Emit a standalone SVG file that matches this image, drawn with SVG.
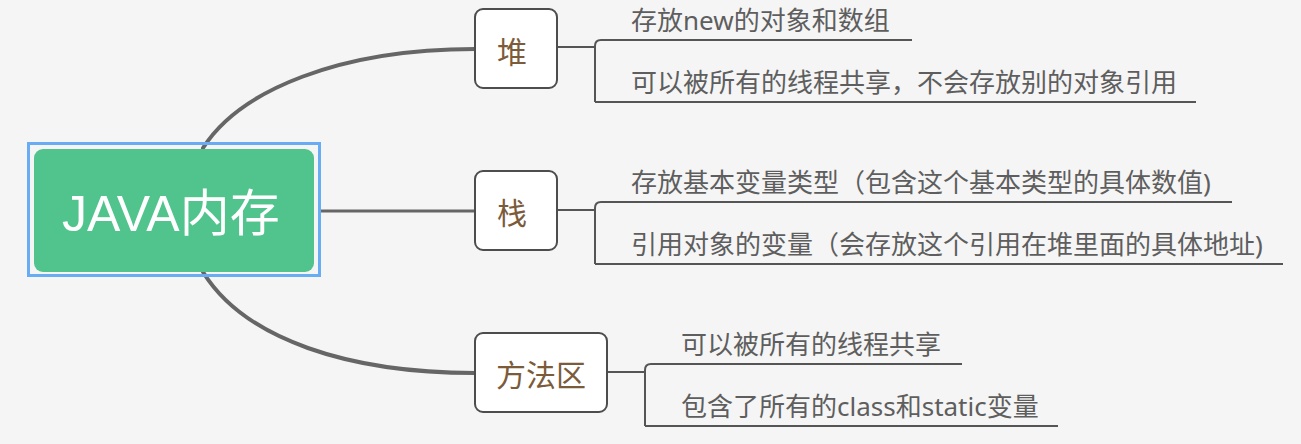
<svg xmlns="http://www.w3.org/2000/svg" width="1301" height="444" viewBox="0 0 1301 444">
<style>
.bg{fill:#f5f5f5}
.curve{fill:none;stroke:#666;stroke-width:4;stroke-linecap:round}
.br{fill:none;stroke:#555;stroke-width:2}
.node{fill:#fff;stroke:#4d4d4d;stroke-width:2}
.nt{font-family:"Noto Sans CJK SC",sans-serif;font-size:30px;fill:#7b5b3a;text-anchor:middle;dominant-baseline:central}
.lt{font-family:"Noto Sans","Noto Sans CJK SC",sans-serif;font-size:26px;fill:#5e5e5e;dominant-baseline:central}
.rt{font-family:"Liberation Sans","Noto Sans CJK SC",sans-serif;font-size:50px;fill:#fff;dominant-baseline:central}
</style>
<rect class="bg" x="0" y="0" width="1301" height="444"/>
<g id="connectors">
<path class="curve" d="M203,148 C240,90 340,49 475,49"/>
<path class="curve" d="M320,211 H475" style="stroke-width:3"/>
<path class="curve" d="M203,272 C245,340 350,373 475,373"/>
<path class="br" d="M557,47 H595 M595,102 V46 Q595,40 601,40 H912 M595,102 H1196"/>
<path class="br" d="M557,210 H595 M595,264 V208 Q595,202 601,202 H1232 M595,264 H1283"/>
<path class="br" d="M607,372 H645 M645,426 V370 Q645,364 651,364 H962 M645,426 H1058"/>
</g>
<g id="root">
<rect x="28.5" y="143.5" width="291" height="132" fill="none" stroke="#68acf4" stroke-width="3"/>
<rect x="34" y="149" width="280" height="123" rx="9" fill="#50c48c"/>
<text class="rt" x="62" y="214">JAVA内存</text>
</g>
<g id="heap">
<rect class="node" x="475" y="9" width="82" height="79" rx="8"/>
<text class="nt" x="512" y="50">堆</text>
<text class="lt" x="631" y="20">存放new的对象和数组</text>
<text class="lt" x="631" y="82">可以被所有的线程共享，不会存放别的对象引用</text>
</g>
<g id="stack">
<rect class="node" x="475" y="171" width="82" height="79" rx="8"/>
<text class="nt" x="512" y="211">栈</text>
<text class="lt" x="631" y="182">存放基本变量类型（包含这个基本类型的具体数值)</text>
<text class="lt" x="631" y="244">引用对象的变量（会存放这个引用在堆里面的具体地址)</text>
</g>
<g id="method">
<rect class="node" x="475" y="333" width="132" height="79" rx="8"/>
<text class="nt" x="541" y="373">方法区</text>
<text class="lt" x="681" y="344">可以被所有的线程共享</text>
<text class="lt" x="681" y="406">包含了所有的class和static变量</text>
</g>
</svg>
